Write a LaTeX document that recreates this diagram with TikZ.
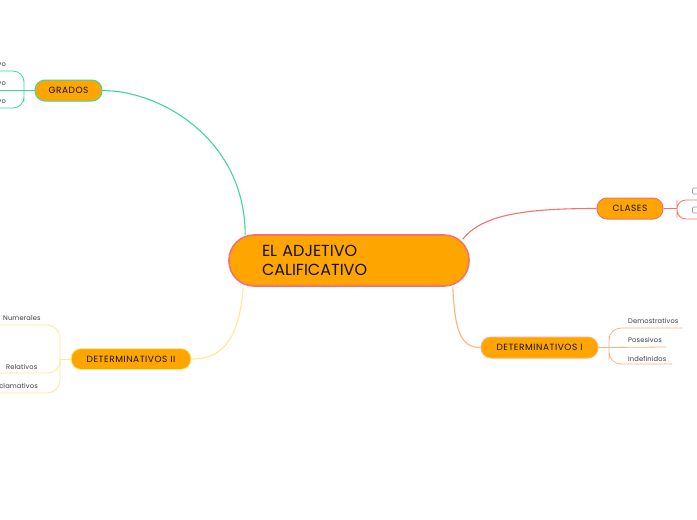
\documentclass[tikz,border=0pt]{standalone}
\usepackage{fontspec}
\setmainfont{Poppins}
\usepackage{tikz}
\usetikzlibrary{positioning}
\definecolor{topic}{HTML}{FFA500}
\definecolor{cteal}{HTML}{40D5A8}
\definecolor{cred}{HTML}{F4736D}
\definecolor{cpeach}{HTML}{FFB27A}
\definecolor{cyellow}{HTML}{FBEB8F}
\definecolor{ink}{HTML}{111111}
\definecolor{ink2}{HTML}{3A3A3A}
\definecolor{boxgray}{HTML}{9A9A9A}

\begin{document}
\begin{tikzpicture}[x=1pt,y=-1pt,
  rootbox/.style={fill=topic,draw=cred,line width=1.6pt,rounded corners=25pt,minimum width=240pt,minimum height=51pt,
    text width=174pt,inner xsep=33pt,align=left,text=ink,font=\fontsize{16}{19}\selectfont},
  subbox/.style={fill=topic,line width=1pt,rounded corners=10pt,minimum height=21pt,inner sep=0pt,text=ink,
    font=\fontsize{9}{10}\selectfont\addfontfeature{LetterSpace=6}},
  leaf/.style={inner sep=0pt,text=ink2,font=\fontsize{6.7}{8}\selectfont\addfontfeature{LetterSpace=2}},
  link/.style={line width=1.1pt},
  tick/.style={draw=boxgray,line width=0.6pt,rounded corners=1pt,minimum width=7pt,minimum height=6pt,inner sep=0pt}]
  \useasboundingbox (0,0) rectangle (697,520);
  \fill[white] (0,0) rectangle (697,520);
  % topics
  \node[rootbox] (root) at (349,260.5) {EL ADJETIVO\\CALIFICATIVO};
  \node[subbox,draw=cteal,minimum width=67pt] (grados) at (68.5,90.5) {GRADOS};
  \node[subbox,draw=cred,minimum width=66pt] (clases) at (630,208.5) {CLASES};
  \node[subbox,draw=cpeach,minimum width=117pt] (det1) at (539.5,347.5) {DETERMINATIVOS I};
  \node[subbox,draw=cyellow,minimum width=120pt] (det2) at (131,359) {DETERMINATIVOS II};
  % main branches
  \draw[link,cteal] ([xshift=17pt,yshift=-1pt]root.north west) .. controls +(0,-96) and +(58,0) .. (grados.east);
  \draw[link,cred] ([xshift=-7pt,yshift=-5pt]root.north east) .. controls +(20,-26) and +(-65,0) .. (clases.west);
  \draw[link,cpeach] ([xshift=-17pt]root.south east) .. controls +(2,44) and +(-20,0) .. (det1.west);
  \draw[link,cyellow] ([xshift=15pt]root.south west) .. controls +(-4,54) and +(30,0) .. (det2.east);
  % leaves
  \foreach \n/\t/\x/\y in {pos/Positivo/6/64, comp/Comparativo/6/84, sup/Superlativo/6/102, excl/Exclamativos/38/386}
    \node[leaf,anchor=east] (\n) at (\x,\y) {\t};
  \foreach \n/\t/\x/\y in {num/Numerales/3/318, rel/Relativos/6/367, dem/Demostrativos/628/321, pose/Posesivos/628/340, indef/Indefinidos/628/359}
    \node[leaf,anchor=west] (\n) at (\x,\y) {\t};
  \node[tick] (c1) at (696,191) {};
  \node[tick] (c2) at (696,210) {};
  % grados bracket
  \coordinate (gj) at (24,90.5);
  \draw[line width=0.8pt,cteal] (grados.west) -- (gj) -- (-10,90.5);
  \draw[line width=0.8pt,cteal,rounded corners=11pt] ([xshift=-30pt,yshift=-7pt]pos.west) -| (gj) |- ([xshift=-30pt,yshift=-6pt]sup.west);
  % clases bracket
  \coordinate (cj) at (677,208.5);
  \draw[line width=0.8pt,cred] (clases.east) -- (cj);
  \draw[line width=0.8pt,cred,rounded corners=9pt] ([xshift=5pt,yshift=-9pt]c1.center) -| (cj) |- ([xshift=5pt,yshift=-9pt]c2.center);
  % det I bracket
  \coordinate (dj) at (609,347.5);
  \draw[line width=0.8pt,cpeach] (det1.east) -- (dj) -- ([xshift=4pt,yshift=-7pt]pose.east);
  \draw[line width=0.8pt,cpeach,rounded corners=12pt] ([xshift=4pt,yshift=-7pt]dem.east) -| (dj) |- ([xshift=6pt,yshift=-5pt]indef.east);
  % det II bracket
  \coordinate (ej) at (60,359);
  \draw[line width=0.8pt,cyellow] (det2.west) -- (ej);
  \draw[line width=0.8pt,cyellow,rounded corners=13pt] ([xshift=-10pt,yshift=-7pt]num.west) -| (ej) |- ([xshift=-50pt,yshift=-7pt]excl.west);
  \draw[line width=0.8pt,cyellow,rounded corners=12pt] ([xshift=-10pt,yshift=-6pt]rel.west) -| (ej);
\end{tikzpicture}
\end{document}
